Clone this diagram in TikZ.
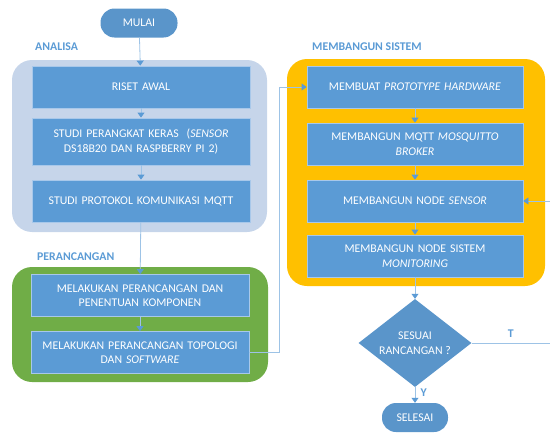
\documentclass[tikz,border=0pt]{standalone}
\usepackage{fontspec}
\setmainfont{Carlito}
\usetikzlibrary{shapes.geometric,arrows.meta}
\definecolor{boxblue}{HTML}{5B9BD5}
\definecolor{pillblue}{HTML}{5A95CA}
\definecolor{edgeblue}{HTML}{A8C8EA}
\definecolor{lineblue}{HTML}{9DC3E6}
\definecolor{tipblue}{HTML}{5B9BD5}
\definecolor{grpgrey}{HTML}{C6D5EA}
\definecolor{grpgreen}{HTML}{70AD47}
\definecolor{grpyellow}{HTML}{FFC000}
\tikzset{
	stepbox/.style={draw=edgeblue, line width=0.8pt, fill=boxblue, text=white,
		minimum width=218pt, minimum height=42pt, text width=212pt, align=center,
		inner sep=0pt, font=\fontsize{11.8}{14.5}\selectfont},
	pill/.style={fill=pillblue, text=white, rounded corners=14pt,
		minimum height=29pt, inner sep=0pt, font=\fontsize{11.8}{14.5}\selectfont},
	decide/.style={diamond, fill=pillblue, text=white, inner sep=0pt, aspect=1.28,
		minimum width=113pt, minimum height=88pt, align=center,
		font=\fontsize{11.8}{14.5}\selectfont},
	grouplabel/.style={anchor=west, text=boxblue, font=\bfseries\fontsize{11.8}{14.5}\selectfont, inner sep=0pt},
	flow/.style={draw=lineblue, line width=0.8pt, -{Triangle[width=7pt,length=5pt,color=tipblue]}},
	flowline/.style={draw=lineblue, line width=0.8pt}
}
\begin{document}
\begin{tikzpicture}[x=1pt,y=-1pt]
	\useasboundingbox (0,0) rectangle (550,434);
	% group backgrounds
	\fill[grpgrey, rounded corners=20pt] (12,60) rectangle (267,232);
	\fill[grpgreen, rounded corners=20pt] (12,267) rectangle (268,382);
	\fill[grpyellow, rounded corners=20pt] (287,59) rectangle (545,286);
	\node[grouplabel] (lanalisa) at (35,47) {ANALISA};
	\node[grouplabel] (lrancang) at (37,257) {PERANCANGAN};
	\node[grouplabel] (lsistem) at (312,47) {MEMBANGUN SISTEM};
	% nodes
	\node[pill, minimum width=77pt] (mulai) at (139,23) {MULAI};
	\node[stepbox] (riset) at (141,87) {RISET AWAL};
	\node[stepbox, minimum height=47pt] (studihw) at (141,141.5) {STUDI PERANGKAT KERAS \ (\textit{SENSOR}\\DS18B20 DAN RASPBERRY PI 2)};
	\node[stepbox] (studimqtt) at (141,201) {STUDI PROTOKOL KOMUNIKASI MQTT};
	\node[stepbox] (rancang) at (140,295.5) {MELAKUKAN PERANCANGAN DAN\\PENENTUAN KOMPONEN};
	\node[stepbox] (topologi) at (140,352.5) {MELAKUKAN PERANCANGAN TOPOLOGI\\DAN \textit{SOFTWARE}};
	\node[stepbox, minimum width=216pt] (prototype) at (415,87) {MEMBUAT \textit{PROTOTYPE HARDWARE}};
	\node[stepbox, minimum width=216pt] (broker) at (415,144) {MEMBANGUN MQTT \textit{MOSQUITTO}\\\textit{BROKER}};
	\node[stepbox, minimum width=216pt] (nodesensor) at (415,201) {MEMBANGUN NODE \textit{SENSOR}};
	\node[stepbox, minimum width=216pt] (nodemonitor) at (415,256) {MEMBANGUN NODE SISTEM\\\textit{MONITORING}};
	\node[decide] (sesuai) at (415,343) {SESUAI\\RANCANGAN ?};
	\node[pill, minimum width=66pt] (selesai) at (415,417.5) {SELESAI};
	\coordinate (turna) at (279,352.5);
	\coordinate (turnb) at (550,343);
	% connectors
	\draw[flow] (mulai) -- (riset);
	\draw[flow] (riset) -- (studihw);
	\draw[flow] (studihw) -- (studimqtt);
	\draw[flow] (studimqtt) -- (rancang);
	\draw[flow] (rancang) -- (topologi);
	\draw[flow] (topologi.east) -- (turna) |- (prototype.west);
	\draw[flow] (prototype) -- (broker);
	\draw[flow] (broker) -- (nodesensor);
	\draw[flow] (nodesensor) -- (nodemonitor);
	\draw[flow] (nodemonitor) -- (sesuai);
	\draw[flow] (sesuai) -- node[pos=0.35, right=2pt, text=boxblue, font=\bfseries\fontsize{11.8}{14.5}\selectfont] {Y} (selesai);
	\draw[flow] (sesuai.east) -- node[pos=0.5, above=2pt, text=boxblue, font=\bfseries\fontsize{11.8}{14.5}\selectfont] {T} (turnb) |- (nodesensor.east);
\end{tikzpicture}
\end{document}
